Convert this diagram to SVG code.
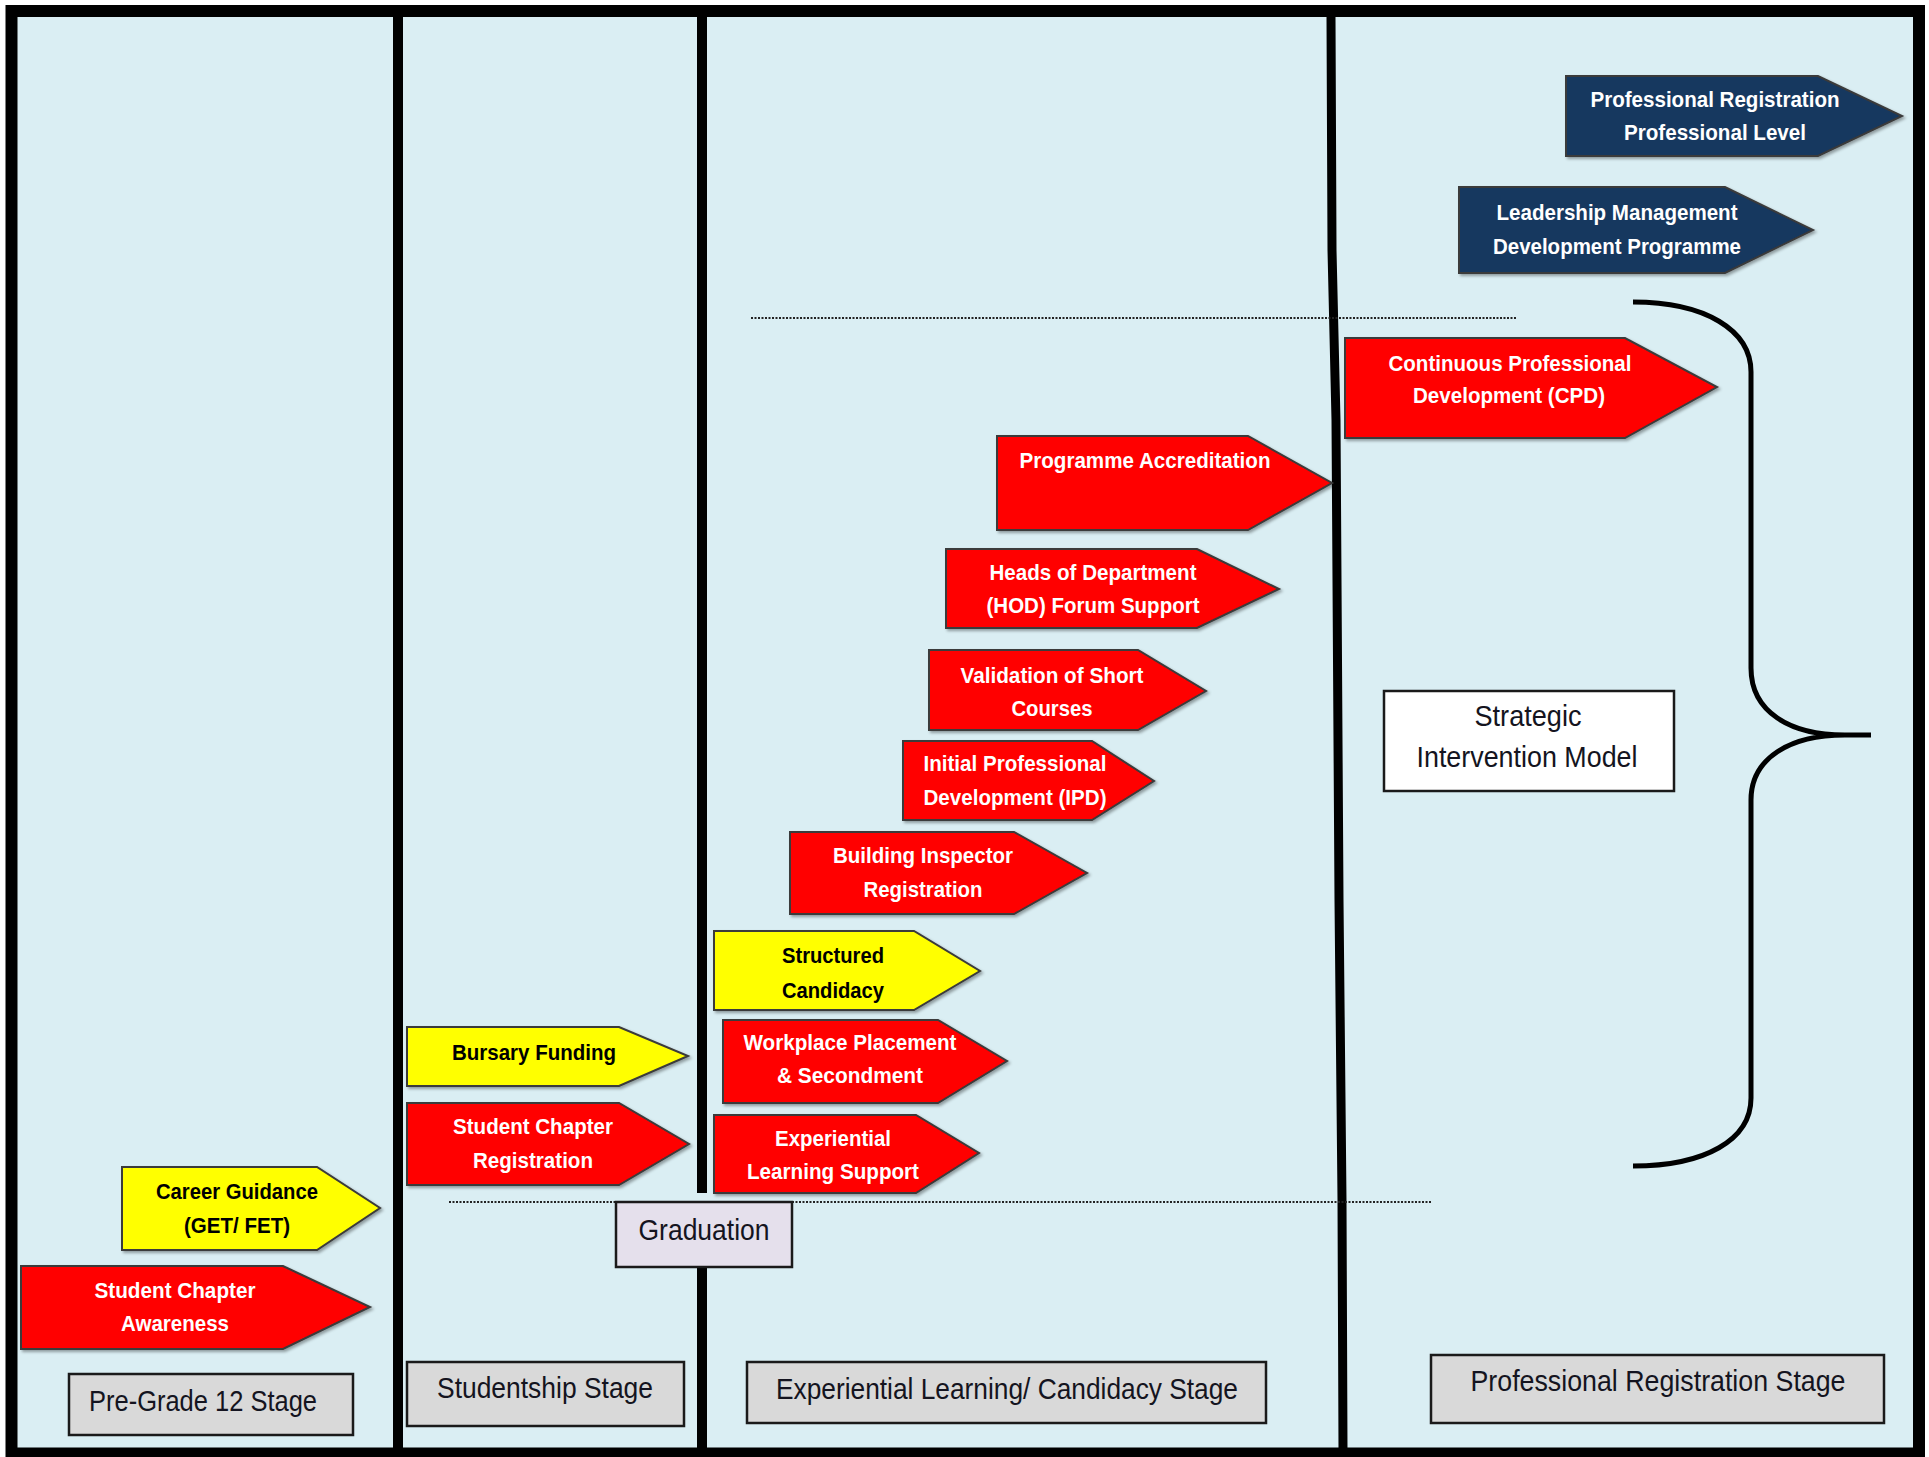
<svg xmlns="http://www.w3.org/2000/svg" width="1929" height="1457" viewBox="0 0 1929 1457">
<defs>
<filter id="sh" x="-5%" y="-10%" width="115%" height="130%">
<feDropShadow dx="2" dy="2" stdDeviation="1.5" flood-color="#000" flood-opacity="0.35"/>
</filter>
<style>
.red{fill:#FF0000;stroke:#3a3a3a;stroke-width:2;filter:url(#sh)}
.yel{fill:#FFFF00;stroke:#3a3a3a;stroke-width:2;filter:url(#sh)}
.navy{fill:#17375E;stroke:#3a3a3a;stroke-width:2;filter:url(#sh)}
.at{font-family:"Liberation Sans",Arial,sans-serif;font-weight:bold;font-size:22px;text-anchor:middle}
.w{fill:#FFFFFF}
.k{fill:#000000}
.stage{fill:#D9D9D9;stroke:#1a1a1a;stroke-width:2.5}
.st{font-family:"Liberation Sans",Arial,sans-serif;font-size:29px;fill:#141420;text-anchor:middle}
.div{stroke:#000;fill:none}
.dot{stroke:#222;stroke-width:2.2;stroke-dasharray:2 1.5;fill:none}
</style>
</defs>
<rect x="0" y="0" width="1929" height="1457" fill="#FFFFFF"/>
<rect x="11.5" y="11" width="1907.5" height="1442.5" fill="#DAEEF3" stroke="#000" stroke-width="12"/>

<g id="dividers">
<line class="div" x1="398" y1="17" x2="398" y2="1450" stroke-width="10"/>
<line class="div" x1="702" y1="17" x2="702" y2="1193" stroke-width="10"/>
<line class="div" x1="702" y1="1267" x2="702" y2="1450" stroke-width="10"/>
<polyline class="div" points="1331,17 1332,250 1336,420 1339,900 1342,1200 1343,1450" stroke-width="9"/>
</g>

<g id="connectors">
<line class="dot" x1="751" y1="318" x2="1517" y2="318"/>
<line class="dot" x1="449" y1="1202" x2="1431" y2="1202"/>
<path d="M1633,302 C1705,302 1751,330 1751,372 L1751,668 C1751,712 1790,735 1845,735 L1871,735 M1845,735 C1790,735 1751,758 1751,800 L1751,1098 C1751,1140 1705,1166 1633,1166" fill="none" stroke="#000" stroke-width="5"/>
</g>

<g id="prof-reg-level">
<polygon class="navy" points="1566,76 1818,76 1902,116 1818,156 1566,156"/>
<text class="at w" x="1715" y="107" textLength="249" lengthAdjust="spacingAndGlyphs">Professional Registration</text>
<text class="at w" x="1715" y="140" textLength="182" lengthAdjust="spacingAndGlyphs">Professional Level</text>
</g>
<g id="leadership">
<polygon class="navy" points="1459,187 1725,187 1813,230 1725,273 1459,273"/>
<text class="at w" x="1617" y="220" textLength="241" lengthAdjust="spacingAndGlyphs">Leadership Management</text>
<text class="at w" x="1617" y="254" textLength="248" lengthAdjust="spacingAndGlyphs">Development Programme</text>
</g>
<g id="cpd">
<polygon class="red" points="1345,338 1625,338 1717,387 1625,438 1345,438"/>
<text class="at w" x="1510" y="371" textLength="243" lengthAdjust="spacingAndGlyphs">Continuous Professional</text>
<text class="at w" x="1509" y="403" textLength="192" lengthAdjust="spacingAndGlyphs">Development (CPD)</text>
</g>
<g id="prog-accred">
<polygon class="red" points="997,436 1248,436 1332,483 1248,530 997,530"/>
<text class="at w" x="1145" y="468" textLength="251" lengthAdjust="spacingAndGlyphs">Programme Accreditation</text>
</g>
<g id="hod">
<polygon class="red" points="946,549 1197,549 1279,589 1197,628 946,628"/>
<text class="at w" x="1093" y="580" textLength="207" lengthAdjust="spacingAndGlyphs">Heads of Department</text>
<text class="at w" x="1093" y="613" textLength="213" lengthAdjust="spacingAndGlyphs">(HOD) Forum Support</text>
</g>
<g id="validation">
<polygon class="red" points="929,650 1138,650 1206,691 1138,730 929,730"/>
<text class="at w" x="1052" y="683" textLength="183" lengthAdjust="spacingAndGlyphs">Validation of Short</text>
<text class="at w" x="1052" y="716" textLength="81" lengthAdjust="spacingAndGlyphs">Courses</text>
</g>
<g id="ipd">
<polygon class="red" points="903,741 1092,741 1154,781 1092,820 903,820"/>
<text class="at w" x="1015" y="771" textLength="183" lengthAdjust="spacingAndGlyphs">Initial Professional</text>
<text class="at w" x="1015" y="805" textLength="183" lengthAdjust="spacingAndGlyphs">Development (IPD)</text>
</g>
<g id="building-inspector">
<polygon class="red" points="790,832 1014,832 1087,873 1014,914 790,914"/>
<text class="at w" x="923" y="863" textLength="180" lengthAdjust="spacingAndGlyphs">Building Inspector</text>
<text class="at w" x="923" y="897" textLength="119" lengthAdjust="spacingAndGlyphs">Registration</text>
</g>
<g id="structured-candidacy">
<polygon class="yel" points="714,931 914,931 980,971 914,1010 714,1010"/>
<text class="at k" x="833" y="963" textLength="102" lengthAdjust="spacingAndGlyphs">Structured</text>
<text class="at k" x="833" y="998" textLength="102" lengthAdjust="spacingAndGlyphs">Candidacy</text>
</g>
<g id="workplace">
<polygon class="red" points="723,1020 938,1020 1007,1061 938,1103 723,1103"/>
<text class="at w" x="850" y="1050" textLength="213" lengthAdjust="spacingAndGlyphs">Workplace Placement</text>
<text class="at w" x="850" y="1083" textLength="146" lengthAdjust="spacingAndGlyphs">&amp; Secondment</text>
</g>
<g id="experiential">
<polygon class="red" points="714,1115 916,1115 979,1153 916,1193 714,1193"/>
<text class="at w" x="833" y="1146" textLength="116" lengthAdjust="spacingAndGlyphs">Experiential</text>
<text class="at w" x="833" y="1179" textLength="172" lengthAdjust="spacingAndGlyphs">Learning Support</text>
</g>
<g id="bursary">
<polygon class="yel" points="407,1027 619,1027 688,1056 619,1086 407,1086"/>
<text class="at k" x="534" y="1060" textLength="164" lengthAdjust="spacingAndGlyphs">Bursary Funding</text>
</g>
<g id="student-chapter-reg">
<polygon class="red" points="407,1103 619,1103 689,1144 619,1185 407,1185"/>
<text class="at w" x="533" y="1134" textLength="160" lengthAdjust="spacingAndGlyphs">Student Chapter</text>
<text class="at w" x="533" y="1168" textLength="120" lengthAdjust="spacingAndGlyphs">Registration</text>
</g>
<g id="career-guidance">
<polygon class="yel" points="122,1167 317,1167 380,1208 317,1250 122,1250"/>
<text class="at k" x="237" y="1199" textLength="162" lengthAdjust="spacingAndGlyphs">Career Guidance</text>
<text class="at k" x="237" y="1233" textLength="106" lengthAdjust="spacingAndGlyphs">(GET/ FET)</text>
</g>
<g id="student-chapter-aw">
<polygon class="red" points="21,1266 283,1266 370,1307 283,1349 21,1349"/>
<text class="at w" x="175" y="1298" textLength="161" lengthAdjust="spacingAndGlyphs">Student Chapter</text>
<text class="at w" x="175" y="1331" textLength="108" lengthAdjust="spacingAndGlyphs">Awareness</text>
</g>

<g id="graduation">
<rect x="616" y="1202" width="176" height="65" fill="#E5E0EC" stroke="#1a1a1a" stroke-width="2.5"/>
<text class="st" x="704" y="1240" textLength="131" lengthAdjust="spacingAndGlyphs">Graduation</text>
</g>
<g id="strategic-model">
<rect x="1384" y="691" width="290" height="100" fill="#FFFFFF" stroke="#1a1a1a" stroke-width="2.5"/>
<text class="st" x="1528" y="726" textLength="107" lengthAdjust="spacingAndGlyphs">Strategic</text>
<text class="st" x="1527" y="767" textLength="221" lengthAdjust="spacingAndGlyphs">Intervention Model</text>
</g>

<g id="stage-pregrade">
<rect class="stage" x="69" y="1374" width="284" height="61"/>
<text class="st" x="203" y="1411" textLength="228" lengthAdjust="spacingAndGlyphs">Pre-Grade 12 Stage</text>
</g>
<g id="stage-studentship">
<rect class="stage" x="407" y="1362" width="277" height="64"/>
<text class="st" x="545" y="1398" textLength="216" lengthAdjust="spacingAndGlyphs">Studentship Stage</text>
</g>
<g id="stage-experiential">
<rect class="stage" x="747" y="1362" width="519" height="61"/>
<text class="st" x="1007" y="1399" textLength="462" lengthAdjust="spacingAndGlyphs">Experiential Learning/ Candidacy Stage</text>
</g>
<g id="stage-professional">
<rect class="stage" x="1431" y="1355" width="453" height="68"/>
<text class="st" x="1658" y="1391" textLength="375" lengthAdjust="spacingAndGlyphs">Professional Registration Stage</text>
</g>
</svg>
